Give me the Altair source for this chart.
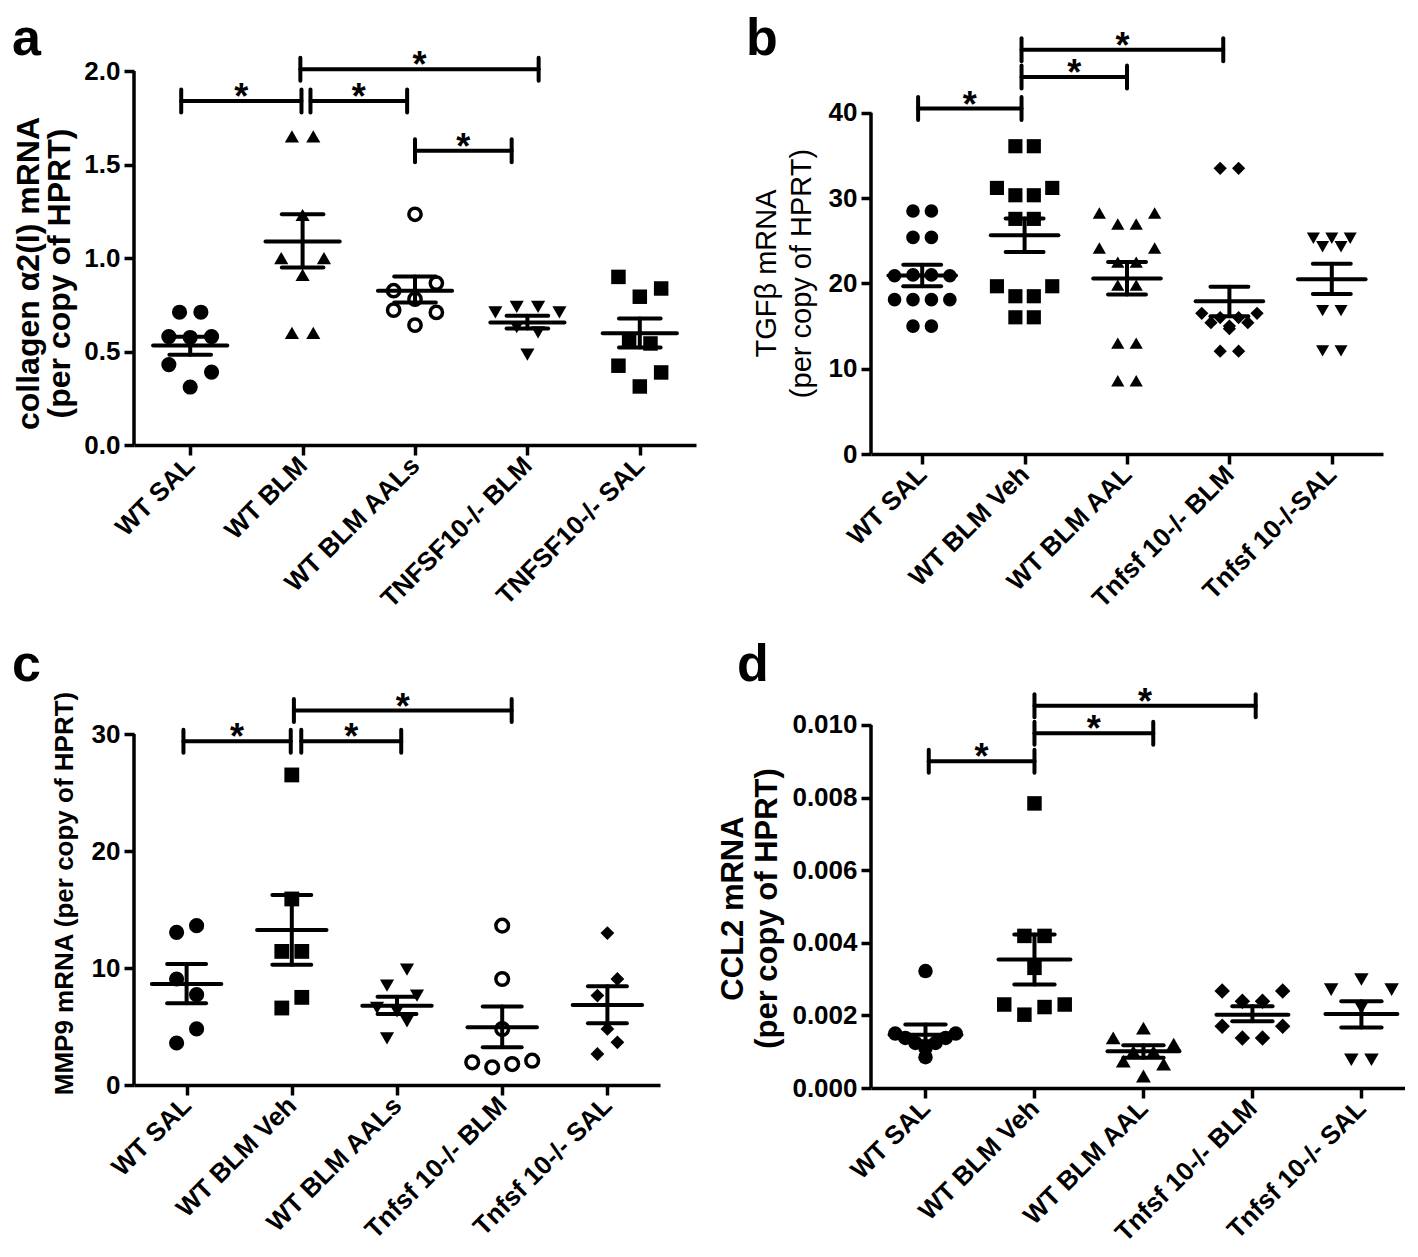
import altair as alt
import pandas as pd

FONT = "Liberation Sans"

# ---------------- panel a ----------------
A_LABELS = ["WT SAL", "WT BLM", "WT BLM AALs", "TNFSF10-/- BLM", "TNFSF10-/- SAL"]
A_ROWS = [
    [[0.71, 0.71], [0.58, 0.575, 0.58], [0.43, None, 0.39], [0.31]],
    [[1.65, 1.65], [1.23], [1.00, 0.91, 1.00], [0.60, 0.60]],
    [[1.234], [0.825, 0.78, 0.866], [0.721, 0.641, 0.709]],
    [[0.709, 0.739, 0.739, 0.709], [0.63, 0.602], [0.483]],
    [[0.899, 0.793, 0.837], [0.557, 0.543], [0.424, None, 0.388], [0.313]],
]
A_MEAN = [0.532, 1.088, 0.825, 0.655, 0.597]
A_SEM_HI = [0.579, 1.234, 0.901, 0.691, 0.677]
A_SEM_LO = [0.483, 0.949, 0.762, 0.623, 0.522]
A_BR_X1 = [0.92, 2.07, 1.98, 3.00]
A_BR_X2 = [1.99, 2.93, 4.10, 3.86]
A_BR_Y = [1.84, 1.84, 2.009, 1.573]
A_TICKS = [0.0, 0.5, 1.0, 1.5, 2.0]

# ---------------- panel b ----------------
B_LABELS = ["WT SAL", "WT BLM Veh", "WT BLM AAL", "Tnfsf 10-/- BLM", "Tnfsf 10-/-SAL"]
B_ROWS = [
    [[28.5, 28.5], [25.4, 25.4], [20.9, 21.0, 21.0, 20.9], [18.1, 18.1, 18.1, 18.1], [15.0, 15.0]],
    [[36.09, 36.09], [31.2, 30.34, 30.34, 31.2], [27.57, 27.57], [19.67, 18.5, 18.5, 19.67], [16.03, 16.03]],
    [[28.27, 26.98, 26.98, 28.27], [24.16, 22.5, 22.5, 24.16], [19.8, 19.8], [13.0, 13.0], [8.6, 8.6]],
    [[33.5, 33.5], [16.5, 16.0, 16.0, 16.5], [15.4, 15.0, 15.4], [14.7], [12.05, 12.05]],
    [[25.3, 25.3, 25.3], [24.3, 24.3], [16.8, 16.8], [12.1, 12.1]],
]
B_MEAN = [20.92, 25.65, 20.57, 17.9, 20.5]
B_SEM_HI = [22.2, 27.6, 22.5, 19.6, 22.3]
B_SEM_LO = [19.67, 23.7, 18.7, 16.15, 18.75]
B_BR_X1 = [0.96, 1.97, 1.97]
B_BR_X2 = [1.97, 3.00, 3.94]
B_BR_Y = [40.5, 44.2, 47.4]
B_TICKS = [0, 10, 20, 30, 40]

# ---------------- panel c ----------------
C_LABELS = ["WT SAL", "WT BLM Veh", "WT BLM AALs", "Tnfsf 10-/- BLM", "Tnfsf 10-/- SAL"]
C_ROWS = [
    [[13.05, 13.62], [9.06, 7.72], [3.59, 4.79]],
    [[26.5], [15.9], [11.42, 11.42], [6.58, 7.49]],
    [[8.49, 9.86], [6.6, 6.3, 7.64], [3.99, 5.44]],
    [[13.62], [9.06], [4.79], [1.94, 1.51, 1.79, 2.08]],
    [[12.99], [7.64, 9.06], [4.79], [2.65, 3.65]],
]
C_MEAN = [8.63, 13.25, 6.78, 4.93, 6.84]
C_SEM_HI = [10.34, 16.24, 7.55, 6.7, 8.43]
C_SEM_LO = [6.98, 10.28, 6.07, 3.22, 5.27]
C_BR_X1 = [0.97, 2.09, 2.02]
C_BR_X2 = [1.99, 3.04, 4.09]
C_BR_Y = [29.37, 29.37, 32.0]
C_TICKS = [0, 10, 20, 30]

# ---------------- panel d ----------------
D_LABELS = ["WT SAL", "WT BLM Veh", "WT BLM AAL", "Tnfsf 10-/- BLM", "Tnfsf 10-/- SAL"]
D_ROWS = [
    [[0.00322], [0.00150, None, None, 0.00150], [0.00138, None, 0.00138], [0.00124, 0.00124], [0.00110], [0.00085]],
    [[0.00784], [0.00419, 0.00419], [0.00331], [0.00230, 0.00202, 0.00223, 0.00230]],
    [[0.00165], [0.00138, 0.00100, 0.00100, 0.00121], [0.00074, None, 0.00066], [0.00033]],
    [[0.00267, None, None, 0.00267], [0.00239, 0.00239], [0.00170, None, None, 0.00170], [0.00138, 0.00138]],
    [[0.00299], [0.00271, None, None, 0.00271], [0.00221], [0.00078, 0.00078]],
]
D_MEAN = [0.00147, 0.00354, 0.00101, 0.00202, 0.00204]
D_SEM_HI = [0.00175, 0.00423, 0.00118, 0.00225, 0.00239]
D_SEM_LO = [0.00129, 0.00285, 0.00083, 0.00184, 0.00167]
D_BR_X1 = [1.03, 2.00, 2.00]
D_BR_X2 = [2.00, 3.09, 4.03]
D_BR_Y = [0.0090, 0.00977, 0.01053]
D_TICKS = [0.0, 0.002, 0.004, 0.006, 0.008, 0.010]


def label_expr(labels):
    expr = "''"
    for i in range(len(labels) - 1, -1, -1):
        expr = f"datum.value == {i + 1} ? '{labels[i]}' : ({expr})"
    return expr


def build(cfg):
    W, H = cfg["width"], cfg["height"]
    xs = alt.Scale(domain=cfg["xdom"], nice=False, zero=False)
    ys = alt.Scale(domain=[0, cfg["ytop"]], nice=False, zero=False)
    xaxis = alt.Axis(
        values=[1, 2, 3, 4, 5], labelExpr=label_expr(cfg["labels"]), labelAngle=-45,
        labelAlign="right", labelBaseline="middle", labelFont=FONT, labelFontSize=26,
        labelFontWeight="bold", labelColor="black", labelPadding=6, labelOverlap=False,
        labelFlush=False, labelLimit=600, tickSize=10, tickWidth=3.5, tickColor="black",
        domainWidth=3.5, domainColor="black", grid=False, title=None,
    )
    yaxis = alt.Axis(
        values=cfg["ticks"], format=cfg["fmt"], domain=False, labelFont=FONT, labelFontSize=26,
        labelFontWeight="bold", labelColor="black", labelPadding=4, tickSize=10, tickWidth=3.5,
        tickColor="black", grid=False, title=cfg["ytitle"], titleFont=FONT,
        titleFontSize=cfg["tsize"], titleLineHeight=cfg["tline"],
        titleFontWeight=cfg["tweight"], titleColor="black", titleY=cfg["titleY"],
        titlePadding=cfg["tpad"], titleLimit=800,
    )

    def X(f):
        return alt.X(f, scale=xs, axis=xaxis)

    def Y(f):
        return alt.Y(f, scale=ys, axis=yaxis)

    shapes, filled, sizes = cfg["shapes"], cfg["filled"], cfg["sizes"]
    recs = []
    step = cfg["step"]
    for gi, rows in enumerate(cfg["rows"]):
        for row in rows:
            k = len(row)
            for j, v in enumerate(row):
                if v is None:
                    continue
                recs.append({"x": gi + 1 + (j - (k - 1) / 2) * step, "v": v, "shape": shapes[gi],
                             "filled": filled[gi], "sz": sizes[gi]})
    pts = pd.DataFrame(recs)
    layers = []
    pf = pts[pts["filled"]]
    po = pts[~pts["filled"]]
    layers.append(
        alt.Chart(pf).mark_point(filled=True, opacity=1, color="black")
        .encode(x=X("x:Q"), y=Y("v:Q"),
                shape=alt.Shape("shape:N", scale=None), size=alt.Size("sz:Q", scale=None))
    )
    if len(po):
        layers.append(
            alt.Chart(po).mark_point(filled=False, opacity=1, color="black", strokeWidth=3.5)
            .encode(x=X("x:Q"), y=Y("v:Q"),
                    shape=alt.Shape("shape:N", scale=None), size=alt.Size("sz:Q", scale=None))
        )
    # y axis line (only up to the top tick)
    layers.append(
        alt.Chart(pd.DataFrame({"y0": [0.0], "y1": [cfg["ticks"][-1]]}))
        .mark_rule(strokeWidth=3.5, color="black")
        .encode(x=alt.value(0), y=Y("y0:Q"), y2="y1:Q")
    )
    st = pd.DataFrame({"g": [1, 2, 3, 4, 5], "m": cfg["mean"], "hi": cfg["hi"], "lo": cfg["lo"]})
    sb = alt.Chart(st).transform_calculate(
        ml="datum.g - 0.33", mr="datum.g + 0.33", cl="datum.g - 0.185", cr="datum.g + 0.185")
    rk = dict(strokeWidth=4, color="black", strokeCap="round")
    layers.append(sb.mark_rule(**rk).encode(x=X("ml:Q"), x2="mr:Q", y=Y("m:Q")))
    layers.append(sb.mark_rule(**rk).encode(x=X("cl:Q"), x2="cr:Q", y=Y("hi:Q")))
    layers.append(sb.mark_rule(**rk).encode(x=X("cl:Q"), x2="cr:Q", y=Y("lo:Q")))
    layers.append(sb.mark_rule(**rk).encode(x=X("g:Q"), y=Y("lo:Q"), y2="hi:Q"))
    # significance brackets
    h = 11.5 * cfg["ytop"] / H
    br = pd.DataFrame({"x1": cfg["bx1"], "x2": cfg["bx2"], "y": cfg["by"]})
    bb = alt.Chart(br).transform_calculate(
        yl=f"datum.y - {h}", yh=f"datum.y + {h}", xm="(datum.x1 + datum.x2) / 2")
    layers.append(bb.mark_rule(**rk).encode(x=X("x1:Q"), x2="x2:Q", y=Y("y:Q")))
    layers.append(bb.mark_rule(**rk).encode(x=X("x1:Q"), y=Y("yl:Q"), y2="yh:Q"))
    layers.append(bb.mark_rule(**rk).encode(x=X("x2:Q"), y=Y("yl:Q"), y2="yh:Q"))
    layers.append(bb.mark_text(text="*", font=FONT, fontSize=36, fontWeight="bold", color="black",
                               baseline="alphabetic", dy=8).encode(x=X("xm:Q"), y=Y("y:Q")))
    # panel letter
    layers.append(
        alt.Chart(pd.DataFrame({"t": [cfg["letter"]]}))
        .mark_text(font=FONT, fontSize=52, fontWeight="bold", color="black", align="left",
                   baseline="alphabetic")
        .encode(text="t:N", x=alt.value(cfg["lx"]), y=alt.value(cfg["ly"]))
    )
    return alt.layer(*layers).properties(width=W, height=H)


pa = build(dict(
    width=562, height=414, xdom=[0.5, 5.5], ytop=2.214, ticks=A_TICKS, fmt=".1f",
    labels=A_LABELS, rows=A_ROWS, mean=A_MEAN, hi=A_SEM_HI, lo=A_SEM_LO,
    bx1=A_BR_X1, bx2=A_BR_X2, by=A_BR_Y, step=0.19,
    shapes=["circle", "triangle-up", "circle", "triangle-down", "square"],
    filled=[True, True, False, True, True], sizes=[230, 200, 150, 200, 210],
    ytitle=["collagen α2(I) mRNA", "(per copy of HPRT)"], tweight="bold", tsize=32, tline=31,
    titleY=242, tpad=7, letter="a", lx=-122, ly=24,
))
pb = build(dict(
    width=512, height=423, xdom=[0.5, 5.5], ytop=49.6, ticks=B_TICKS, fmt="d",
    labels=B_LABELS, rows=B_ROWS, mean=B_MEAN, hi=B_SEM_HI, lo=B_SEM_LO,
    bx1=B_BR_X1, bx2=B_BR_X2, by=B_BR_Y, step=0.18,
    shapes=["circle", "square", "triangle-up", "diamond", "triangle-down"],
    filled=[True, True, True, True, True], sizes=[185, 200, 175, 175, 170],
    ytitle=["TGFβ mRNA", "(per copy of HPRT)"], tweight="normal", tsize=29, tline=35,
    titleY=242, tpad=12, letter="b", lx=-125, ly=24,
))
pc = build(dict(
    width=526, height=404, xdom=[0.5, 5.5], ytop=34.53, ticks=C_TICKS, fmt="d",
    labels=C_LABELS, rows=C_ROWS, mean=C_MEAN, hi=C_SEM_HI, lo=C_SEM_LO,
    bx1=C_BR_X1, bx2=C_BR_X2, by=C_BR_Y, step=0.19,
    shapes=["circle", "square", "triangle-down", "circle", "diamond"],
    filled=[True, True, True, False, True], sizes=[230, 220, 200, 160, 190],
    ytitle="MMP9 mRNA (per copy of HPRT)", tweight="bold", tsize=26, tline=30,
    titleY=212, tpad=14, letter="c", lx=-122, ly=0,
))
pd_ = build(dict(
    width=534, height=407, xdom=[0.5, 5.4], ytop=0.011212, ticks=D_TICKS, fmt=".3f",
    labels=D_LABELS, rows=D_ROWS, mean=D_MEAN, hi=D_SEM_HI, lo=D_SEM_LO,
    bx1=D_BR_X1, bx2=D_BR_X2, by=D_BR_Y, step=0.185,
    shapes=["circle", "square", "triangle-up", "diamond", "triangle-down"],
    filled=[True, True, True, True, True], sizes=[210, 210, 220, 240, 210],
    ytitle=["CCL2 mRNA", "(per copy of HPRT)"], tweight="bold", tsize=31, tline=34,
    titleY=227, tpad=8, letter="d", lx=-134, ly=0,
))

chart = (
    alt.concat(pa, pb, pc, pd_, columns=2, spacing={"row": 227, "column": 175}, bounds="flush")
    .properties(padding={"top": 5, "left": 4, "right": 0, "bottom": 0}, background="white")
    .configure_view(stroke=None)
)
chart.save("out.html", embed_options={"renderer": "svg", "actions": False})
